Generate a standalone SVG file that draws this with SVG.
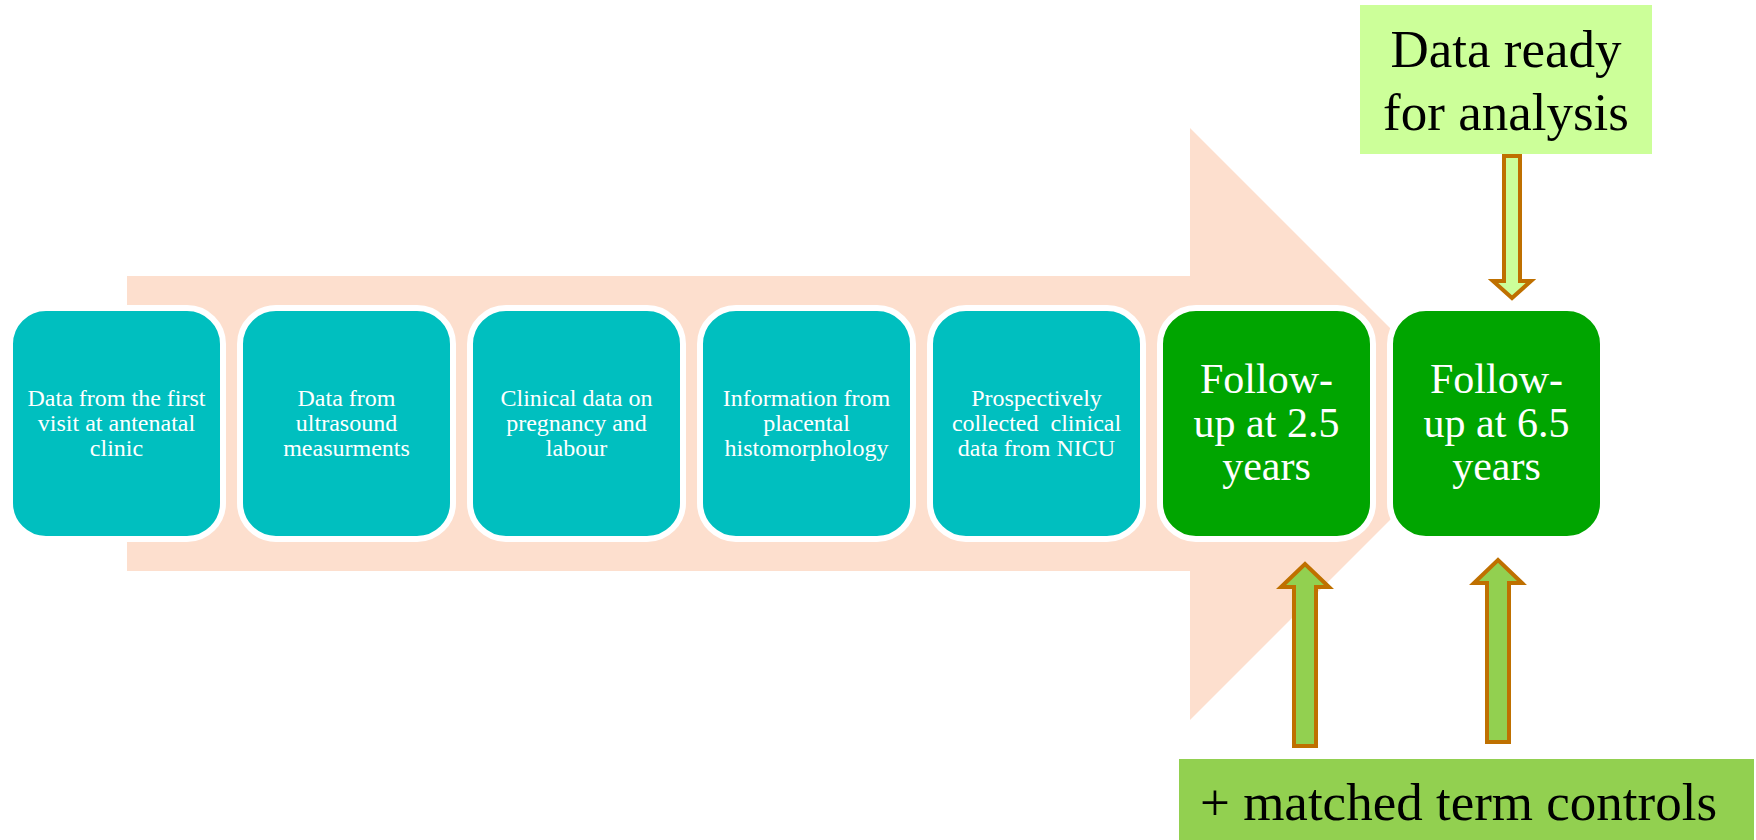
<svg xmlns="http://www.w3.org/2000/svg" width="1756" height="840" viewBox="0 0 1756 840">
<style>
.bg{fill:#FDDFCE}
.box{stroke:#FFFFFF;stroke-width:6}
.teal{fill:#00BFBF}
.green{fill:#00A500}
.t{font-family:"Liberation Serif","Times New Roman",serif;fill:#FFFFFF;text-anchor:middle}
.s{font-size:24px}
.l{font-size:42px}
.k{font-family:"Liberation Serif","Times New Roman",serif;fill:#000000;font-size:53px}
.arr{stroke:#BF7000;stroke-width:4;stroke-linejoin:miter}
</style>
<rect width="1756" height="840" fill="#FFFFFF"/>
<g id="big-arrow">
<polygon class="bg" points="127,276 1190,276 1190,128 1486,424 1190,720 1190,571 127,571"/>
</g>
<g id="node1"><rect class="box teal" x="10" y="308" width="213" height="231" rx="36"/>
<text class="t s" x="116.5"><tspan x="116.5" y="406">Data from the first</tspan><tspan x="116.5" y="431">visit at antenatal</tspan><tspan x="116.5" y="456">clinic</tspan></text></g>
<g id="node2"><rect class="box teal" x="240" y="308" width="213" height="231" rx="36"/>
<text class="t s"><tspan x="346.5" y="406">Data from</tspan><tspan x="346.5" y="431">ultrasound</tspan><tspan x="346.5" y="456">measurments</tspan></text></g>
<g id="node3"><rect class="box teal" x="470" y="308" width="213" height="231" rx="36"/>
<text class="t s"><tspan x="576.5" y="406">Clinical data on</tspan><tspan x="576.5" y="431">pregnancy and</tspan><tspan x="576.5" y="456">labour</tspan></text></g>
<g id="node4"><rect class="box teal" x="700" y="308" width="213" height="231" rx="36"/>
<text class="t s"><tspan x="806.5" y="406">Information from</tspan><tspan x="806.5" y="431">placental</tspan><tspan x="806.5" y="456">histomorphology</tspan></text></g>
<g id="node5"><rect class="box teal" x="930" y="308" width="213" height="231" rx="36"/>
<text class="t s" xml:space="preserve"><tspan x="1036.5" y="406">Prospectively</tspan><tspan x="1036.5" y="431">collected  clinical</tspan><tspan x="1036.5" y="456">data from NICU</tspan></text></g>
<g id="node6"><rect class="box green" x="1160" y="308" width="213" height="231" rx="36"/>
<text class="t l"><tspan x="1266.5" y="393">Follow-</tspan><tspan x="1266.5" y="437">up at 2.5</tspan><tspan x="1266.5" y="480">years</tspan></text></g>
<g id="node7"><rect class="box green" x="1390" y="308" width="213" height="231" rx="36"/>
<text class="t l"><tspan x="1496.5" y="393">Follow-</tspan><tspan x="1496.5" y="437">up at 6.5</tspan><tspan x="1496.5" y="480">years</tspan></text></g>
<g id="node-ready"><rect x="1360" y="5" width="292" height="149" fill="#CCFF99"/>
<text class="k" text-anchor="middle"><tspan x="1506" y="67">Data ready</tspan><tspan x="1506" y="130">for analysis</tspan></text></g>
<g id="node-controls"><rect x="1179" y="759" width="575" height="81" fill="#92D050"/>
<text class="k" x="1200" y="820">+ matched term controls</text></g>
<g id="connectors">
<polygon class="arr" fill="#CCFF99" points="1504,156 1520,156 1520,281 1531,281 1512,298 1493,281 1504,281"/>
<polygon class="arr" fill="#92D050" points="1294,746 1316,746 1316,587 1329,587 1305,564 1281,587 1294,587"/>
<polygon class="arr" fill="#92D050" points="1487,742 1509,742 1509,583 1522,583 1498,560 1474,583 1487,583"/>
</g>
</svg>
